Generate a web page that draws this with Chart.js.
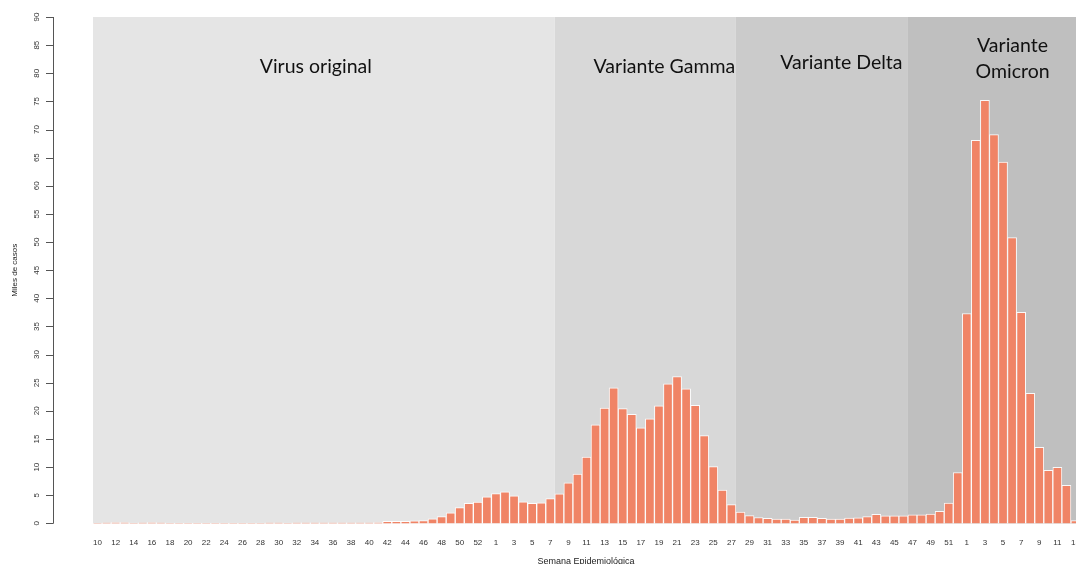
<!DOCTYPE html>
<html>
<head>
<meta charset="utf-8">
<title>Casos por semana epidemiológica</title>
<script src="https://cdn.jsdelivr.net/npm/chart.js@4"></script>
<style>
    html, body { margin: 0; padding: 0; background: #ffffff; overflow: hidden; }
    #wrap { width: 1076px; height: 564px; position: relative; overflow: hidden; }
</style>
</head>
<body>
<div id="wrap"><canvas id="myChart" width="1080" height="564"></canvas></div>
<script>
// Semanas epidemiológicas (2020 semana 10 a 2022 semana 13)
var weeks = [
    10, 11, 12, 13, 14, 15, 16, 17, 18, 19, 20, 21, 22, 23, 24, 25, 26, 27, 28, 29,
    30, 31, 32, 33, 34, 35, 36, 37, 38, 39, 40, 41, 42, 43, 44, 45, 46, 47, 48, 49,
    50, 51, 52, 53,
    1, 2, 3, 4, 5, 6, 7, 8, 9, 10, 11, 12, 13, 14, 15, 16, 17, 18, 19, 20,
    21, 22, 23, 24, 25, 26, 27, 28, 29, 30, 31, 32, 33, 34, 35, 36, 37, 38, 39, 40,
    41, 42, 43, 44, 45, 46, 47, 48, 49, 50, 51, 52,
    1, 2, 3, 4, 5, 6, 7, 8, 9, 10, 11, 12, 13
];

// Miles de casos por semana
var cases = [
    0.02, 0.12, 0.15, 0.15, 0.05, 0.12, 0.15, 0.12, 0.05, 0.05, 0.05, 0.05, 0.05, 0.05, 0.05, 0.05, 0.05, 0.05, 0.05, 0.12,
    0.12, 0.05, 0.12, 0.12, 0.1, 0.1, 0.1, 0.1, 0.1, 0.1, 0.1, 0.15, 0.35, 0.35, 0.35, 0.47, 0.5, 0.8, 1.2, 1.9,
    2.8, 3.55, 3.8, 4.7,
    5.3, 5.6, 4.9, 3.85, 3.55, 3.65, 4.4, 5.25, 7.2, 8.75, 11.8, 17.5, 20.5, 24.1, 20.4, 19.4, 17.0, 18.6, 20.9, 24.8,
    26.1, 23.9, 21.0, 15.6, 10.1, 5.9, 3.35, 2.0, 1.38, 1.05, 0.9, 0.77, 0.77, 0.6, 1.07, 1.07, 0.9, 0.77, 0.77, 0.95,
    1.0, 1.2, 1.6, 1.35, 1.35, 1.35, 1.53, 1.53, 1.65, 2.15, 3.6, 9.05,
    37.3, 68.1, 75.2, 69.1, 64.2, 50.8, 37.5, 23.1, 13.5, 9.45, 9.95, 6.75, 0.5
];

// Periodos de variantes: nombre e índice de la primera semana
var variantNames = [["Virus original"], ["Variante Gamma"], ["Variante Delta"], ["Variante", "Omicron"]];
var variantStart = [0, 51, 71, 90];

// Marcas del eje Y
var yTicks = [0, 5, 10, 15, 20, 25, 30, 35, 40, 45, 50, 55, 60, 65, 70, 75, 80, 85, 90];

// Estilos y posiciones de las etiquetas (en unidades de semana / miles)
var bandColors = ['#e5e5e5', '#d8d8d8', '#cbcbcb', '#bfbfbf'];
var labelX = [24.1, 62.6, 82.15, 101.05];
var labelY = [81.2, 81.2, 81.8, 82.5];

var FONT_AXIS = '"Liberation Sans", Arial, sans-serif';
var FONT_LABEL = 'Lato, "Open Sans", sans-serif';

// Fondo gris de cada periodo + textos
var bandsPlugin = {
    id: 'bands',
    beforeDatasetsDraw: function(chart) {
        var ctx = chart.ctx;
        var x = chart.scales.x;
        var y = chart.scales.y;
        var top = y.getPixelForValue(90);
        var bottom = y.getPixelForValue(0);
        var half = (x.getPixelForValue(1) - x.getPixelForValue(0)) / 2;
        ctx.save();
        for (var i = 0; i < variantStart.length; i++) {
            var left = x.getPixelForValue(variantStart[i]) - half;
            var right;
            if (i + 1 < variantStart.length) {
                right = x.getPixelForValue(variantStart[i + 1]) - half;
            } else {
                right = chart.width;
            }
            ctx.fillStyle = bandColors[i];
            ctx.fillRect(left, top, right - left, bottom - top);
        }
        // etiquetas de las variantes
        ctx.fillStyle = '#111111';
        ctx.font = '19.5px ' + FONT_LABEL;
        ctx.textAlign = 'center';
        ctx.textBaseline = 'middle';
        for (var j = 0; j < variantNames.length; j++) {
            var lines = variantNames[j];
            var cx = x.getPixelForValue(labelX[j]);
            var cy = y.getPixelForValue(labelY[j]);
            var lh = 26;
            for (var k = 0; k < lines.length; k++) {
                ctx.fillText(lines[k], cx, cy + (k - (lines.length - 1) / 2) * lh);
            }
        }
        ctx.restore();
    },
    afterDraw: function(chart) {
        // eje Y al estilo R, con etiquetas giradas
        var ctx = chart.ctx;
        var y = chart.scales.y;
        var axisX = 53;
        ctx.save();
        ctx.strokeStyle = '#555555';
        ctx.lineWidth = 1;
        ctx.beginPath();
        ctx.moveTo(axisX + 0.5, y.getPixelForValue(0));
        ctx.lineTo(axisX + 0.5, y.getPixelForValue(90));
        for (var i = 0; i < yTicks.length; i++) {
            var py = Math.round(y.getPixelForValue(yTicks[i])) + 0.5;
            ctx.moveTo(axisX - 7, py);
            ctx.lineTo(axisX + 0.5, py);
        }
        ctx.stroke();
        ctx.fillStyle = '#333333';
        ctx.font = '8px ' + FONT_AXIS;
        ctx.textAlign = 'center';
        ctx.textBaseline = 'middle';
        for (var m = 0; m < yTicks.length; m++) {
            ctx.save();
            ctx.translate(37, y.getPixelForValue(yTicks[m]));
            ctx.rotate(-Math.PI / 2);
            ctx.fillText(String(yTicks[m]), 0, 0);
            ctx.restore();
        }
        // título del eje Y
        ctx.save();
        ctx.translate(15, (y.getPixelForValue(0) + y.getPixelForValue(90)) / 2);
        ctx.rotate(-Math.PI / 2);
        ctx.fillStyle = '#222222';
        ctx.font = '8px ' + FONT_AXIS;
        ctx.fillText('Miles de casos', 0, 0);
        ctx.restore();
        // título del eje X (cortado abajo, como en el original)
        ctx.fillStyle = '#222222';
        ctx.font = '9px ' + FONT_AXIS;
        ctx.textAlign = 'center';
        ctx.fillText('Semana Epidemiológica', 586, chart.chartArea.bottom + 38);
        ctx.restore();
    }
};

var ctx = document.getElementById('myChart').getContext('2d');
var myChart = new Chart(ctx, {
    type: 'bar',
    data: {
        labels: weeks,
        datasets: [{
            label: 'Miles de casos',
            data: cases,
            backgroundColor: '#f08466',
            borderColor: 'rgba(255, 255, 255, 0.9)',
            borderWidth: 1,
            barPercentage: 1,
            categoryPercentage: 1
        }]
    },
    options: {
        responsive: false,
        animation: false,
        devicePixelRatio: 1,
        layout: {
            padding: { left: 93, right: 0, top: 17, bottom: 1 }
        },
        plugins: {
            legend: { display: false },
            tooltip: { enabled: false }
        },
        scales: {
            x: {
                grid: { display: false, drawTicks: false },
                border: { display: false },
                afterFit: function(scale) {
                    // sin margen extra a los lados: las barras llegan al borde
                    scale.paddingLeft = 0;
                    scale.paddingRight = 0;
                },
                ticks: {
                    autoSkip: false,
                    maxRotation: 0,
                    minRotation: 0,
                    padding: 15,
                    color: '#333333',
                    font: { size: 8, family: FONT_AXIS },
                    callback: function(value, index) {
                        return index % 2 === 0 ? String(weeks[index]) : '';
                    }
                }
            },
            y: {
                display: false,
                min: 0,
                max: 90
            }
        }
    },
    plugins: [bandsPlugin]
});
</script>
</body>
</html>
